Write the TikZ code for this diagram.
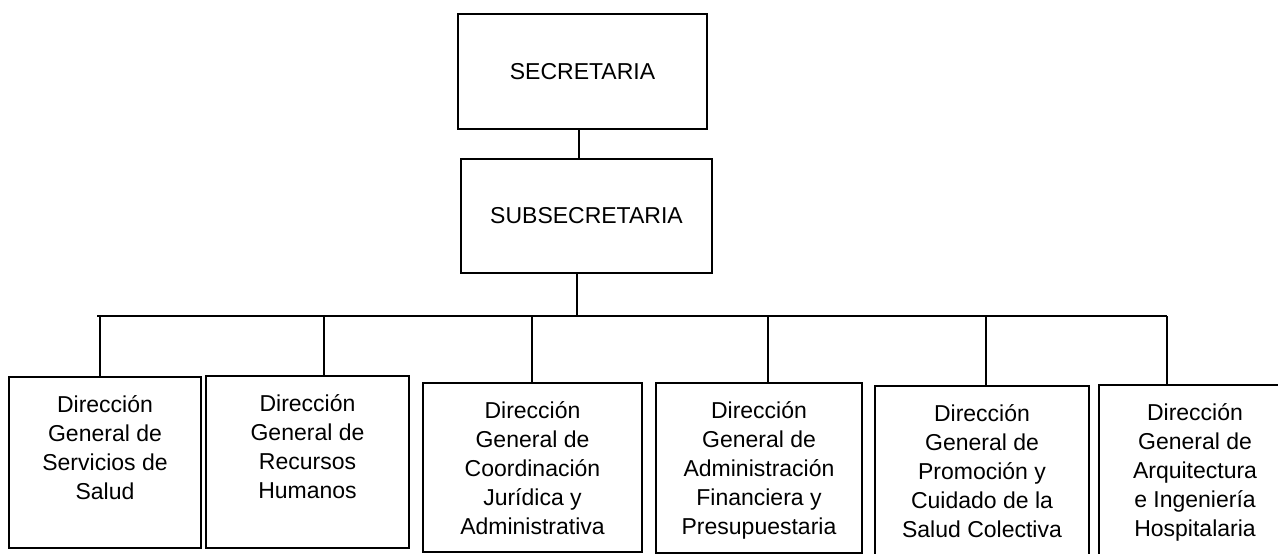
\documentclass[tikz,border=0pt]{standalone}
\usepackage{fontspec}
\setmainfont{Liberation Sans}
\usepackage{tikz}

\tikzset{
	cargo/.style={draw, line width=2pt, inner sep=0pt},
	rotulo/.style={align=center, inner sep=0pt, font=\fontsize{23}{29}\selectfont},
}

\begin{document}
\begin{tikzpicture}[x=1pt,y=-1pt,line width=2pt]

	\useasboundingbox (0,0) rectangle (1278,554);

	\node[cargo, rotulo, minimum width=249pt, minimum height=115pt] (sec) at (582.5,71.5) {SECRETARIA};
	\node[cargo, rotulo, minimum width=251pt, minimum height=114pt] (sub) at (586.5,216) {SUBSECRETARIA};

	\node[cargo, minimum width=192pt, minimum height=171pt] (d1) at (105,462.5) {};
	\node[cargo, minimum width=203pt, minimum height=172pt] (d2) at (307.5,462) {};
	\node[cargo, minimum width=219pt, minimum height=169pt] (d3) at (532.5,467.5) {};
	\node[cargo, minimum width=206pt, minimum height=170pt] (d4) at (759,468) {};
	\node[cargo, minimum width=214pt, minimum height=174pt] (d5) at (982,473) {};
	\node[cargo, minimum width=186pt, minimum height=175pt] (d6) at (1192,472.5) {};

	% base = ultima linea del texto
	\node[rotulo, anchor=base] (t1) at ([yshift=-123pt]d1.north) {Dirección\\General de\\Servicios de\\Salud};
	\node[rotulo, anchor=base] (t2) at ([yshift=-123pt]d2.north) {Dirección\\General de\\Recursos\\Humanos};
	\node[rotulo, anchor=base] (t3) at ([yshift=-152pt]d3.north) {Dirección\\General de\\Coordinación\\Jurídica y\\Administrativa};
	\node[rotulo, anchor=base] (t4) at ([yshift=-152pt]d4.north) {Dirección\\General de\\Administración\\Financiera y\\Presupuestaria};
	\node[rotulo, anchor=base] (t5) at ([yshift=-152pt]d5.north) {Dirección\\General de\\Promoción y\\Cuidado de la\\Salud Colectiva};
	\node[rotulo, anchor=base] (t6) at ([xshift=3pt,yshift=-152pt]d6.north) {Dirección\\General de\\Arquitectura\\e Ingeniería\\Hospitalaria};

	% barra horizontal
	\coordinate (j1) at (100,316);
	\coordinate (j2) at (324,316);
	\coordinate (j3) at (532,316);
	\coordinate (j4) at (768,316);
	\coordinate (j5) at (986,316);
	\coordinate (j6) at (1167,316);
	\coordinate (j0) at (577,316);

	\draw (sec.south -| 579,0) -- (sub.north -| 579,0);
	\draw (sub.south -| j0) -- (j0);
	\draw ([xshift=-3pt]j1) -- (j6);

	\draw (j1) -- (j1 |- d1.north);
	\draw (j2) -- (j2 |- d2.north);
	\draw (j3) -- (j3 |- d3.north);
	\draw (j4) -- (j4 |- d4.north);
	\draw (j5) -- (j5 |- d5.north);
	\draw (j6) -- (j6 |- d6.north);

\end{tikzpicture}
\end{document}
